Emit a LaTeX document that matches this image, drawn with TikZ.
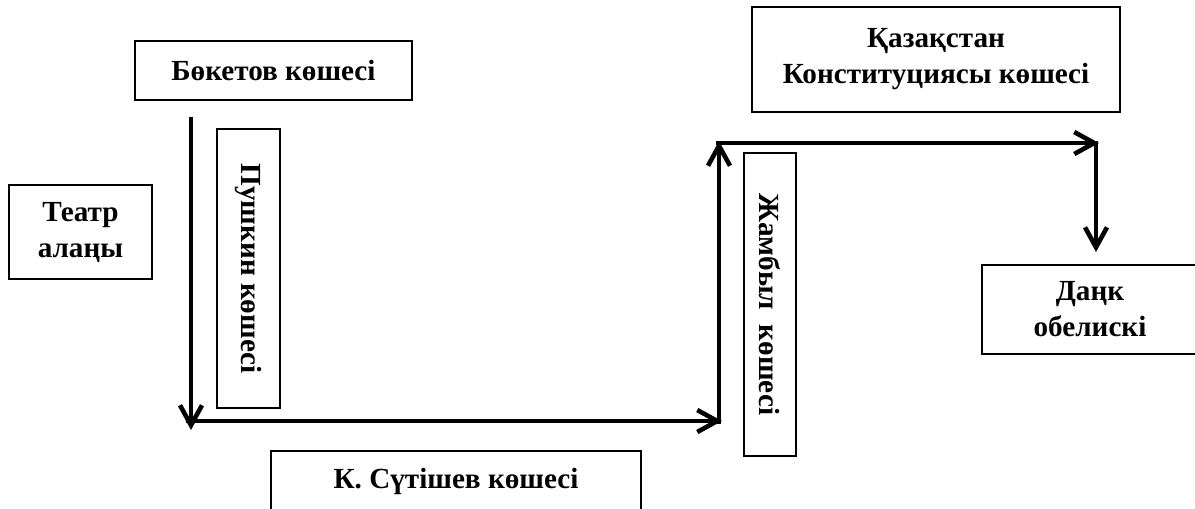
\documentclass[tikz,border=0pt]{standalone}
\usepackage{fontspec}
\setmainfont{Liberation Serif}
\usetikzlibrary{arrows.meta}
\tikzset{
  street/.style={draw, line width=0.9pt, font=\fontsize{16.6}{20.5}\selectfont\bfseries, align=center, inner sep=0pt},
  road/.style={line width=2.6pt, -{Straight Barb[length=4mm,width=4.4mm,line width=2.6pt]}}
}
\begin{document}
\begin{tikzpicture}[x=0.2mm,y=-0.2mm]
	\clip (0,0) rectangle (1195,508);
	%	\draw [color=gray!50,opacity=0.5] [step=50] (0,0) grid (1195,508);
	% streets and places
	\node[street, minimum width=55.4mm, minimum height=11.8mm] (boketov) at (273.5,70.5) {Бөкетов көшесі};
	\node[street, minimum width=28.6mm, minimum height=18.8mm] (teatr) at (80.5,232) {Театр\\алаңы};
	\node[street, rotate=-90, minimum width=55.8mm, minimum height=12.6mm] (pushkin) at (248.5,268.5) {Пушкин көшесі};
	\node[street, minimum width=74mm, minimum height=12mm] (sutishev) at (456,481) {К. Сүтішев көшесі};
	\node[street, rotate=-90, minimum width=60.6mm, minimum height=10.4mm] (zhambyl) at (770,304.5) {Жамбыл\ \ көшесі};
	\node[street, minimum width=73.6mm, minimum height=21mm] (konst) at (936,59.5) {Қазақстан\\Конституциясы көшесі};
	\node[street, minimum width=43.2mm, minimum height=17.8mm] (dank) at (1090,309.5) {Даңк\\обелискі};
	% route
	\coordinate (r1) at (191,117);
	\coordinate (r2) at (191,430);
	\coordinate (r3) at (186,421);
	\coordinate (r4) at (722,421);
	\coordinate (r5) at (719,424);
	\coordinate (r6) at (719,141);
	\coordinate (r7) at (716,143);
	\coordinate (r8) at (1099,143);
	\coordinate (r9) at (1096,141);
	\coordinate (r10) at (1096,252);
	\draw[road] (r1) -- (r2);
	\draw[road] (r3) -- (r4);
	\draw[road] (r5) -- (r6);
	\draw[road] (r7) -- (r8);
	\draw[road] (r9) -- (r10);
\end{tikzpicture}
\end{document}
